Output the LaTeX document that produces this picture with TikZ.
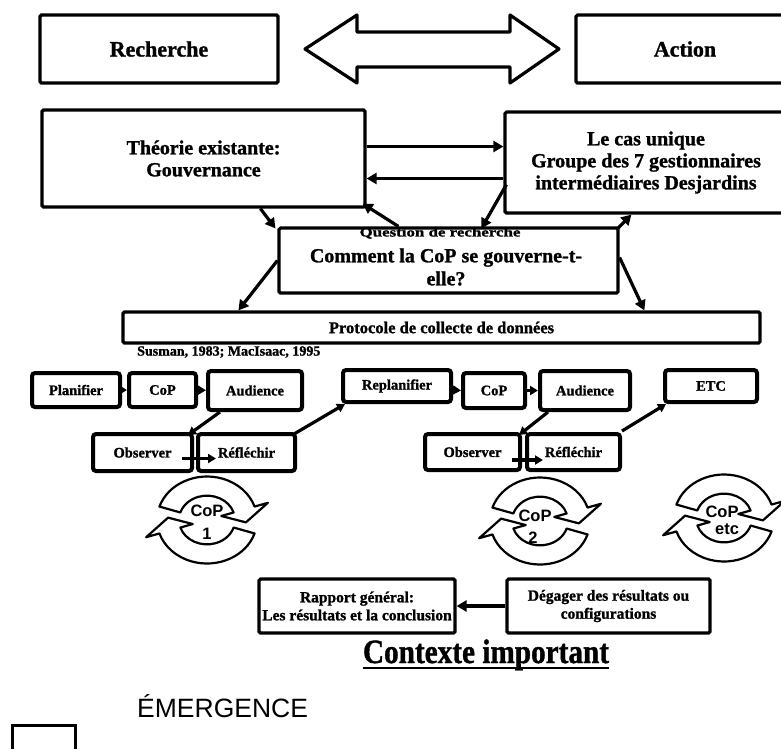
\documentclass[tikz,border=0pt]{standalone}
\usepackage{fontspec}
\setmainfont{Liberation Serif}[BoldFeatures={FakeBold=1.2}]
\newfontfamily\sansfont{Liberation Sans}
\usetikzlibrary{arrows.meta,calc}
\tikzset{
  cyc/.style={draw, line width=2.2pt, fill=white, line join=round},
  coparrows/.pic={
    \begin{scope}[yscale=-0.87]
      % upper curved arrow, turning clockwise over the top
      \path[cyc] (162:50) arc[start angle=162,end angle=18,radius=50]
        -- (18:64) -- (-4:39) -- (18:15) -- (18:28)
        arc[start angle=18,end angle=162,radius=28] -- cycle;
      % lower curved arrow, turning clockwise under the bottom
      \path[cyc] (-18:50) arc[start angle=-18,end angle=-162,radius=50]
        -- (-162:64) -- (176:39) -- (-162:15) -- (-162:28)
        arc[start angle=-162,end angle=-18,radius=28] -- cycle;
    \end{scope}
  }
}
\begin{document}
\begin{tikzpicture}[x=1pt,y=-1pt,
  box/.style={draw, line width=3.2pt, rounded corners=1.5pt, inner sep=0pt, align=center},
  smallbox/.style={draw, line width=4pt, rounded corners=3pt, inner sep=0pt,
    font=\bfseries\fontsize{14.5}{16}\selectfont},
  arr/.style={line width=3.2pt, -{Triangle[length=10pt,width=11pt]}},
  sarr/.style={line width=3.2pt, -{Triangle[length=8pt,width=9pt]}},
  lbl/.style={font=\bfseries\fontsize{20}{22}\selectfont, align=center},
  coplbl/.style={font=\sansfont\bfseries\fontsize{16.5}{18}\selectfont, inner sep=0pt},
]
\clip (0,0) rectangle (781,748);
\fill[white] (0,0) rectangle (781,748);

% --- research / action ---
\node[box, font=\bfseries\fontsize{22}{24}\selectfont, minimum width=238pt, minimum height=68pt] (rech) at (159,49) {Recherche};
\node[box, font=\bfseries\fontsize{22}{24}\selectfont, minimum width=218pt, minimum height=68pt] (act) at (685,49) {Action};
\draw[line width=3.2pt, line join=round, fill=white]
  (305,49) -- (357,15) -- (357,32) -- (510,32) -- (510,15) -- (559,49)
  -- (510,83) -- (510,67) -- (357,67) -- (357,83) -- cycle;

% --- theory and case ---
\node[box, lbl, minimum width=323pt, minimum height=97pt] (theo) at (203.5,158.5) {Théorie existante:\\Gouvernance};
\node[box, lbl, minimum width=282pt, minimum height=101pt] (lecas) at (646,162.5) {Le cas unique\\Groupe des 7 gestionnaires\\intermédiaires Desjardins};
\draw[arr] ($(theo.east)+(0,-12)$) -- ($(lecas.west)+(0,-16)$);
\draw[arr] ($(lecas.west)+(0,16)$) -- ($(theo.east)+(0,20)$);

% --- research question ---
\node[box, minimum width=339pt, minimum height=65pt] (quest) at (448.5,260.5) {};
\node[font=\bfseries\fontsize{13}{14}\selectfont, inner sep=0pt] (qhead) at (440,233) {\scalebox{1.3}[1]{Question de recherche}};
\node[lbl, inner sep=0pt, font=\bfseries\fontsize{20}{23}\selectfont] (qbody) at (446,267) {Comment la CoP se gouverne-t-\\elle?};

\draw[arr] ($(theo.south west)+(220,0)$) -- ($(quest.north west)+(-2,2)$);
\draw[arr] ($(quest.north west)+(121,0)$) -- ($(theo.south east)+(-4,-5)$);
\draw[arr] ($(lecas.south west)+(3,-30)$) -- ($(quest.north west)+(204,2)$);
\draw[arr] ($(quest.north east)+(-2,2)$) -- ($(lecas.south west)+(128,0)$);

% --- data collection protocol ---
\node[box, font=\bfseries\fontsize{16.5}{18}\selectfont, minimum width=637pt, minimum height=31pt] (proto) at (441.5,327.5) {Protocole de collecte de données};
\draw[arr] (quest.west) -- ($(proto.north west)+(117,0)$);
\draw[arr] ($(quest.east)+(0,-3)$) -- ($(proto.north west)+(523,0)$);
\node[anchor=west, font=\bfseries\fontsize{14}{16}\selectfont, inner sep=0pt] (src) at (137,352) {Susman, 1983; MacIsaac, 1995};

% --- action research cycles ---
\node[smallbox, minimum width=88pt, minimum height=34pt] (plan) at (76,390) {Planifier};
\node[smallbox, minimum width=67pt, minimum height=34pt] (cop1) at (162.5,390) {CoP};
\node[smallbox, minimum width=94pt, minimum height=39pt] (aud1) at (255,390.5) {Audience};
\node[smallbox, minimum width=108pt, minimum height=32pt] (replan) at (397,386) {Replanifier};
\node[smallbox, minimum width=62pt, minimum height=35pt] (cop2) at (494,390.5) {CoP};
\node[smallbox, minimum width=90pt, minimum height=39pt] (aud2) at (585,390.5) {Audience};
\node[smallbox, minimum width=92pt, minimum height=32pt] (etc) at (711,386) {ETC};
\node[smallbox, minimum width=99pt, minimum height=37pt] (obs1) at (142.5,452.5) {Observer};
\node[smallbox, minimum width=97pt, minimum height=37pt] (ref1) at (246.5,452.5) {Réfléchir};
\node[smallbox, minimum width=95pt, minimum height=36pt] (obs2) at (472.5,452) {Observer};
\node[smallbox, minimum width=93pt, minimum height=36pt] (ref2) at (573.5,452) {Réfléchir};

\draw[sarr] (plan) -- (cop1);
\draw[sarr] (cop1) -- (aud1);
\draw[sarr] ($(aud1.south west)+(14,0)$) -- ($(obs1.north east)+(-6,3)$);
\draw[sarr] ($(obs1.east)+(-12,6)$) -- ($(ref1.west)+(20,6)$);
\draw[sarr] ($(ref1.north east)+(-3,2)$) -- ($(replan.south west)+(4,0)$);
\draw[sarr] ($(replan.east)+(0,4)$) -- (cop2.west);
\draw[sarr] (cop2) -- (aud2);
\draw[sarr] ($(aud2.south west)+(10,0)$) -- ($(obs2.north east)+(-3,3)$);
\draw[sarr] ($(obs2.east)+(-10,8)$) -- ($(ref2.west)+(18,8)$);
\draw[sarr] ($(ref2.north east)+(0,-1)$) -- ($(etc.south west)+(3,0)$);

% --- CoP cycles ---
\pic (cycA) at (207,520) {coparrows};
\node[coplbl] (copA) at (207,511) {CoP};
\node[coplbl] (numA) at (207,534) {1};
\pic (cycB) at (540,521) {coparrows};
\node[coplbl] (copB) at (535,516) {CoP};
\node[coplbl] (numB) at (533,538) {2};
\pic (cycC) at (724,518) {coparrows};
\node[coplbl] (copC) at (722,512) {CoP};
\node[coplbl] (numC) at (727,529) {etc};

% --- results ---
\node[box, font=\bfseries\fontsize{15.5}{18}\selectfont, minimum width=196pt, minimum height=54pt] (rap) at (357,606) {Rapport général:\\Les résultats et la conclusion};
\node[box, font=\bfseries\fontsize{15.5}{18}\selectfont, minimum width=203pt, minimum height=54pt] (dega) at (608.5,606) {Dégager des résultats ou\\configurations};
\draw[arr] (dega) -- (rap);

\node[font=\bfseries\fontsize{34}{36}\selectfont, inner sep=0pt, anchor=base] (ctx) at (486,663) {\scalebox{0.86}[1]{Contexte important}};
\draw[line width=1.8pt] ($(ctx.base west)+(0,5)$) -- ($(ctx.base east)+(0,5)$);

% --- legend ---
\node[font=\sansfont\fontsize{26.5}{30}\selectfont, inner sep=0pt, anchor=base west] (emer) at (137,717) {ÉMERGENCE};
\node[draw, line width=3pt, minimum width=63pt, minimum height=34pt, inner sep=0pt] (legend) at (43.5,742) {};
\end{tikzpicture}
\end{document}
